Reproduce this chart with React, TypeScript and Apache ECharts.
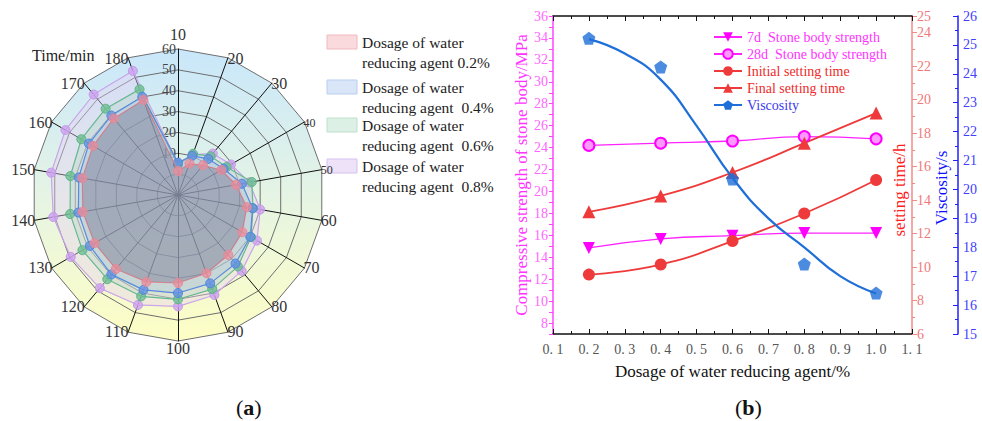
import React, { useEffect, useRef } from 'react';
import * as echarts from 'echarts';

// ---------- Radar (a) data ----------
const radarTimes = [10, 20, 30, 40, 50, 60, 70, 80, 90, 100, 110, 120, 130, 140, 150, 160, 170, 180];
const dosageNames = [
  'Dosage of water\nreducing agent 0.2%',
  'Dosage of water\nreducing agent  0.4%',
  'Dosage of water\nreducing agent  0.6%',
  'Dosage of water\nreducing agent  0.8%',
];
const radar02 = [1.5, 6, 8.6, 14, 18.3, 23.5, 25.6, 27.5, 29.9, 32.2, 34.3, 36.3, 36.2, 36.4, 36.6, 37.1, 37.9, 38.5];
const radar04 = [5.5, 10, 12.6, 15.2, 21.1, 26.3, 30, 32.9, 35.1, 37, 38.4, 39.7, 38.8, 38.5, 38.3, 39.3, 39.7, 40.1];
const radar06 = [4.4, 11, 14.3, 16.9, 25.9, 26.5, 30.4, 34.7, 38, 40, 41.7, 42.7, 42.9, 42.5, 42.4, 43.5, 44, 43.9];
const radar08 = [5.2, 10.6, 15.9, 19.3, 24.7, 30, 33.7, 37.5, 41, 43.4, 46.1, 48.3, 49.4, 50.7, 51.7, 52.3, 52.9, 53.3];
const radarMin = -10;
const radarMax = 60;
const smallRadarNames = ['40', '50'];

// ---------- Line chart (b) data ----------
const xDosage = [0.2, 0.4, 0.6, 0.8, 1.0];
const strength7d = [14.85, 15.67, 15.97, 16.2, 16.2];
const strength28d = [24.2, 24.4, 24.6, 25.0, 24.8];
const initialSetting = [9.55, 10.15, 11.55, 13.2, 15.2];
const finalSetting = [13.3, 14.25, 15.65, 17.4, 19.2];
const viscosity = [25.23, 24.24, 20.36, 17.42, 16.42];
const viscosityFitX = [0.2, 0.3, 0.4, 0.5, 0.6, 0.7, 0.8, 0.9, 1.0];
const viscosityFitY = [25.2, 24.7, 23.8, 22.2, 20.4, 19.0, 18.0, 17.0, 16.4];
const lineNames = [
  '7d  Stone body strength',
  '28d  Stone body strength',
  'Initial setting time',
  'Final setting time',
  'Viscosity',
];

const FONT = 'Liberation Serif';
const PENTAGON = 'path://M0,-1L0.951,-0.309L0.588,0.809L-0.588,0.809L-0.951,-0.309Z';

const zip = (xs: number[], ys: number[]) => xs.map((x, i) => [x, ys[i]]);
// ECharts radar goes counter-clockwise; reference goes clockwise from the top
const reorder = <T,>(arr: T[]) => [arr[0], ...arr.slice(1).reverse()];

export default function App() {
  const ref = useRef<HTMLDivElement>(null);

  useEffect(() => {
    if (!ref.current) return;
    const chart = echarts.init(ref.current, undefined, { renderer: 'svg' });

    const bgGrad = new echarts.graphic.LinearGradient(
      0, 49, 0, 341,
      [
        { offset: 0, color: '#c9e7fb' },
        { offset: 0.5, color: '#e5f4e4' },
        { offset: 1, color: '#fefec4' },
      ],
      true
    );

    const indicators = reorder(radarTimes).map((t, i) => {
      const ind: any = { name: String(t), min: radarMin, max: radarMax };
      if (i === 0) {
        ind.axisLabel = {
          show: true,
          color: '#444',
          fontSize: 14,
          fontFamily: FONT,
          margin: 2,
          formatter: (v: number) => (v >= 10 ? String(v) : ''),
        };
      }
      return ind;
    });

    const radarDefs = [
      { name: dosageNames[3], values: radar08, line: '#c49ae8', fill: 'rgba(205,160,240,0.8)', area: 'rgba(228,206,244,0.55)' },
      { name: dosageNames[2], values: radar06, line: '#5cb488', fill: 'rgba(110,190,145,0.8)', area: 'rgba(165,212,188,0.42)' },
      { name: dosageNames[1], values: radar04, line: '#4f86dc', fill: 'rgba(100,145,225,0.8)', area: 'rgba(150,180,228,0.35)' },
      { name: dosageNames[0], values: radar02, line: '#e58a96', fill: 'rgba(235,140,155,0.75)', area: 'rgba(108,104,134,0.55)' },
    ];

    const radarSeries = radarDefs.map((d, i) => ({
      type: 'radar',
      radarIndex: 0,
      z: 3 + i,
      symbol: 'circle',
      symbolSize: 9,
      lineStyle: { color: d.line, width: 1.2 },
      itemStyle: { color: d.fill, borderColor: d.line, borderWidth: 1 },
      areaStyle: { color: d.area },
      data: [{ name: d.name, value: reorder(d.values) }],
    }));

    const legendColors = ['#ff33ff', '#ff33ff', '#ee2a2a', '#ee2a2a', '#3a3aee'];

    const swatches = [
      { fill: '#fbdadd', stroke: '#f1b8bf' },
      { fill: '#d9e6f8', stroke: '#b8cdf0' },
      { fill: '#dcf0e5', stroke: '#bfe0cc' },
      { fill: '#ede2f8', stroke: '#d5c0ef' },
    ];
    const legendTops = [35, 80, 118, 159];
    const leftLegend: any[] = [];
    dosageNames.forEach((n, i) => {
      leftLegend.push({
        type: 'rect',
        shape: { x: 327, y: legendTops[i], width: 30, height: 14 },
        style: { fill: swatches[i].fill, stroke: swatches[i].stroke, lineWidth: 1 },
      });
      leftLegend.push({
        type: 'text',
        x: 362,
        y: legendTops[i] - 3,
        style: { text: n, font: `15.5px "${FONT}"`, fill: '#222', lineHeight: 20, verticalAlign: 'top' },
      });
    });

    const option: any = {
      animation: false,
      textStyle: { fontFamily: FONT },
      radar: {
        center: [178, 195],
        radius: 146,
        startAngle: 90,
        splitNumber: 7,
        shape: 'polygon',
        nameGap: -1,
        indicator: indicators,
        axisName: {
          color: '#333',
          fontSize: 16,
          fontFamily: FONT,
          formatter: (n: string) => (smallRadarNames.includes(n) ? `{s|${n}}` : n),
          rich: { s: { fontSize: 12, color: '#333', fontFamily: FONT } },
        },
        axisLine: { lineStyle: { color: '#111', width: 1 } },
        splitLine: { lineStyle: { color: '#6e6e6e', width: 1 } },
        splitArea: { show: true, areaStyle: { color: [bgGrad] } },
        axisLabel: { show: false },
      },
      legend: {
        orient: 'vertical',
        left: 708,
        top: 25,
        itemWidth: 28,
        itemHeight: 12,
        itemGap: 3,
        textStyle: { fontSize: 14, fontFamily: FONT },
        data: lineNames.map((n, i) => ({ name: n, textStyle: { color: legendColors[i] } })),
      },
      grid: { left: 553, top: 16, width: 359, height: 318, containLabel: false },
      xAxis: [
        {
          type: 'value',
          position: 'bottom',
          min: 0.1,
          max: 1.1,
          interval: 0.1,
          name: 'Dosage of water reducing agent/%',
          nameLocation: 'middle',
          nameGap: 29,
          nameTextStyle: { color: '#111', fontSize: 17, fontFamily: FONT },
          axisLine: { lineStyle: { color: '#111', width: 1.5 } },
          axisTick: { inside: true, length: 5, lineStyle: { color: '#111' } },
          minorTick: { show: true, splitNumber: 2, length: 3, lineStyle: { color: '#111' } },
          axisLabel: {
            color: '#555',
            fontSize: 14,
            fontFamily: FONT,
            margin: 8,
            formatter: (v: number) => v.toFixed(1).replace('.', '. '),
          },
          splitLine: { show: false },
        },
        {
          type: 'value',
          position: 'top',
          min: 0.1,
          max: 1.1,
          interval: 0.1,
          axisLine: { lineStyle: { color: '#111', width: 1.5 } },
          axisTick: { inside: true, length: 5, lineStyle: { color: '#111' } },
          minorTick: { show: true, splitNumber: 2, length: 3, lineStyle: { color: '#111' } },
          axisLabel: { show: false },
          splitLine: { show: false },
        },
      ],
      yAxis: [
        {
          type: 'value',
          position: 'left',
          min: 7,
          max: 36,
          interval: 1,
          name: 'Compressive strength of stone body/MPa',
          nameLocation: 'middle',
          nameGap: 23,
          nameRotate: 90,
          nameTextStyle: { color: '#ff33ff', fontSize: 17, fontFamily: FONT },
          axisLine: { show: true, lineStyle: { color: '#ff44ff', width: 1.5 } },
          axisTick: { show: true, length: 4, lineStyle: { color: '#ff44ff' } },
          axisLabel: {
            color: '#ff66ff',
            fontSize: 14,
            fontFamily: FONT,
            margin: 5,
            formatter: (v: number) => (v % 2 === 0 ? String(v) : ''),
          },
          splitLine: { show: false },
        },
        {
          type: 'value',
          position: 'right',
          min: 6,
          max: 25,
          interval: 2,
          name: 'setting time/h',
          nameLocation: 'middle',
          nameGap: -21,
          nameRotate: 90,
          nameTextStyle: { color: '#ff2020', fontSize: 17, fontFamily: FONT, padding: [0, 30, 0, 0] },
          axisLine: { show: true, lineStyle: { color: '#f08a8a', width: 1.5 } },
          axisTick: { show: true, length: 5, lineStyle: { color: '#f08a8a' } },
          minorTick: { show: true, splitNumber: 2, length: 3, lineStyle: { color: '#f08a8a' } },
          axisLabel: { color: '#f07878', fontSize: 14, fontFamily: FONT, margin: 5 },
          splitLine: { show: false },
        },
        {
          type: 'value',
          position: 'right',
          offset: 46,
          min: 15,
          max: 26,
          interval: 1,
          name: 'Viscosity/s',
          nameLocation: 'middle',
          nameGap: -25,
          nameRotate: 90,
          nameTextStyle: { color: '#1010ff', fontSize: 17, fontFamily: FONT, padding: [0, 26, 0, 0] },
          axisLine: { show: true, lineStyle: { color: '#2020ff', width: 1.5 } },
          axisTick: { show: true, inside: true, length: 5, lineStyle: { color: '#2020ff' } },
          minorTick: { show: true, splitNumber: 2, length: 3, lineStyle: { color: '#2020ff' } },
          axisLabel: { color: '#4040ff', fontSize: 14, fontFamily: FONT, margin: 5 },
          splitLine: { show: false },
        },
      ],
      series: [
        ...radarSeries,
        {
          name: lineNames[0],
          type: 'line',
          xAxisIndex: 0,
          yAxisIndex: 0,
          smooth: true,
          data: zip(xDosage, strength7d),
          symbol: 'triangle',
          symbolRotate: 180,
          symbolSize: 12,
          lineStyle: { color: '#ff22ff', width: 1.3 },
          itemStyle: { color: '#ff00ff' },
          z: 3,
        },
        {
          name: lineNames[1],
          type: 'line',
          xAxisIndex: 0,
          yAxisIndex: 0,
          smooth: true,
          data: zip(xDosage, strength28d),
          symbol: 'circle',
          symbolSize: 11,
          lineStyle: { color: '#ff22ff', width: 1.3 },
          itemStyle: { color: '#ff99ff', borderColor: '#ff00ff', borderWidth: 2 },
          z: 3,
        },
        {
          name: lineNames[2],
          type: 'line',
          xAxisIndex: 0,
          yAxisIndex: 1,
          smooth: true,
          data: zip(xDosage, initialSetting),
          symbol: 'circle',
          symbolSize: 12,
          lineStyle: { color: '#ee3a3a', width: 1.8 },
          itemStyle: { color: '#ee3a3a' },
          z: 3,
        },
        {
          name: lineNames[3],
          type: 'line',
          xAxisIndex: 0,
          yAxisIndex: 1,
          smooth: true,
          data: zip(xDosage, finalSetting),
          symbol: 'triangle',
          symbolSize: 13,
          lineStyle: { color: '#ee3a3a', width: 1.8 },
          itemStyle: { color: '#ee3a3a' },
          z: 3,
        },
        {
          name: lineNames[4],
          type: 'line',
          xAxisIndex: 0,
          yAxisIndex: 2,
          smooth: 0.5,
          data: zip(viscosityFitX, viscosityFitY),
          symbol: PENTAGON,
          showSymbol: false,
          symbolSize: 12,
          lineStyle: { color: '#1f6fd8', width: 2.2 },
          itemStyle: { color: '#1f6fd8' },
          z: 4,
        },
        {
          name: lineNames[4],
          type: 'scatter',
          xAxisIndex: 0,
          yAxisIndex: 2,
          data: zip(xDosage, viscosity),
          symbol: PENTAGON,
          symbolSize: 13,
          itemStyle: { color: '#1f6fd8' },
          z: 5,
        },
      ],
      graphic: [
        ...leftLegend,
        {
          type: 'text',
          x: 32,
          y: 55,
          style: { text: 'Time/min', font: `16px "${FONT}"`, fill: '#222', verticalAlign: 'middle' },
        },
        {
          type: 'text',
          x: 236,
          y: 407,
          style: {
            text: '{n|(}{b|a}{n|)}',
            verticalAlign: 'middle',
            rich: {
              n: { fontSize: 22, fontFamily: FONT, fill: '#111' } as any,
              b: { fontSize: 22, fontFamily: FONT, fontWeight: 'bold', fill: '#111' } as any,
            },
          },
        },
        {
          type: 'text',
          x: 735,
          y: 407,
          style: {
            text: '{n|(}{b|b}{n|)}',
            verticalAlign: 'middle',
            rich: {
              n: { fontSize: 22, fontFamily: FONT, fill: '#111' } as any,
              b: { fontSize: 22, fontFamily: FONT, fontWeight: 'bold', fill: '#111' } as any,
            },
          },
        },
      ],
    };

    chart.setOption(option);
    return () => chart.dispose();
  }, []);

  return (
    <div
      ref={ref}
      style={{ position: 'absolute', left: 0, top: 0, width: 982, height: 421, background: '#fff' }}
    />
  );
}
